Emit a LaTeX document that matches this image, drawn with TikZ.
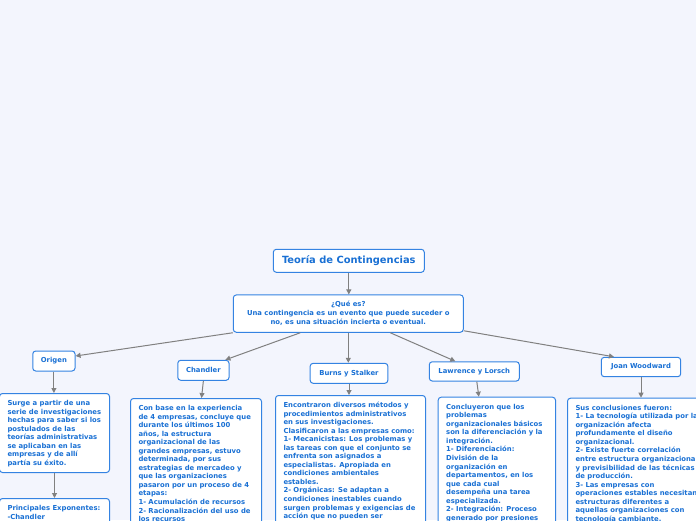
\documentclass[tikz,border=0pt]{standalone}
\usepackage{fontspec}
\setmainfont{DejaVu Sans}
\usetikzlibrary{arrows.meta}
\definecolor{bgc}{RGB}{243,245,253}
\definecolor{bordc}{RGB}{52,131,226}
\definecolor{txtc}{RGB}{25,112,212}
\definecolor{arrc}{RGB}{128,128,128}
\newcommand{\mybx}[3]{\begin{minipage}[c][#2][t]{#1}\begin{tabular}[t]{@{}l@{}}#3\end{tabular}\end{minipage}}
\begin{document}
\begin{tikzpicture}[x=1pt,y=-1pt,
  box/.style={draw=bordc, line width=1pt, fill=white, rounded corners=3pt, text=txtc,
    font=\bfseries\fontsize{6.85}{8.55}\selectfont},
  hdr/.style={box, align=center, inner sep=0pt},
  body/.style={box, anchor=north west, inner xsep=8pt, inner ysep=6pt},
  conn/.style={draw=arrc, line width=1pt, -{Triangle[width=5pt,length=5pt]}}]
\path[use as bounding box, fill=bgc] (0,0) rectangle (696,520);
\clip (0,0) rectangle (696,520);
% headers
\node[hdr, minimum width=151pt, minimum height=23pt, font=\bfseries\fontsize{9.9}{12}\selectfont] (title) at (348.8,260.8) {Teoría de Contingencias};
\node[hdr, minimum width=230pt, minimum height=37.3pt, font=\bfseries\fontsize{6.85}{9}\selectfont] (que) at (348.3,313.6) {¿Qué es?\\Una contingencia es un evento que puede suceder o\\no, es una situación incierta o eventual.};
\node[hdr, minimum width=42.3pt, minimum height=20pt] (origen) at (53.9,361) {Origen};
\node[hdr, minimum width=51.3pt, minimum height=20pt] (chandler) at (203.4,370.3) {Chandler};
\node[hdr, minimum width=77.7pt, minimum height=20pt] (burns) at (349,373.3) {Burns y Stalker};
\node[hdr, minimum width=90pt, minimum height=19.3pt] (lawrence) at (474.3,371.4) {Lawrence y Lorsch};
\node[hdr, minimum width=79.4pt, minimum height=19.4pt] (joan) at (641,367) {Joan Woodward};
% bodies
\node[body] (origenb) at (-1,393) {\mybx{94pt}{67pt}{Surge a partir de una\\serie de investigaciones\\hechas para saber si los\\postulados de las\\teorías administrativas\\se aplicaban en las\\empresas y de allí\\partía su éxito.}};
\node[body] (princ) at (-1,498) {\mybx{94pt}{60pt}{Principales Exponentes:\\-Chandler}};
\node[body] (chandlerb) at (130,398) {\mybx{115pt}{150pt}{Con base en la experiencia\\de 4 empresas, concluye que\\durante los últimos 100\\años, la estructura\\organizacional de las\\grandes empresas, estuvo\\determinada, por sus\\estrategias de mercadeo y\\que las organizaciones\\pasaron por un proceso de 4\\etapas:\\1- Acumulación de recursos\\2- Racionalización del uso de\\los recursos}};
\node[body] (burnsb) at (275,395) {\mybx{134pt}{150pt}{Encontraron diversos métodos y\\procedimientos administrativos\\en sus investigaciones.\\Clasificaron a las empresas como:\\1- Mecanicistas: Los problemas y\\las tareas con que el conjunto se\\enfrenta son asignados a\\especialistas. Apropiada en\\condiciones ambientales\\estables.\\2- Orgánicas: Se adaptan a\\condiciones inestables cuando\\surgen problemas y exigencias de\\acción que no pueden ser}};
\node[body] (lawrenceb) at (437.7,396.7) {\mybx{101.3pt}{150pt}{Concluyeron que los\\problemas\\organizacionales básicos\\son la diferenciación y la\\integración.\\1- Diferenciación:\\División de la\\organización en\\departamentos, en los\\que cada cual\\desempeña una tarea\\especializada.\\2- Integración: Proceso\\generado por presiones}};
\node[body] (joanb) at (567,397.7) {\mybx{117pt}{150pt}{Sus conclusiones fueron:\\1- La tecnología utilizada por la\\organización afecta\\profundamente el diseño\\organizacional.\\2- Existe fuerte correlación\\entre estructura organizacional\\y previsibilidad de las técnicas\\de producción.\\3- Las empresas con\\operaciones estables necesitan\\estructuras diferentes a\\aquellas organizaciones con\\tecnología cambiante.}};
% connectors
\draw[conn] (title.south) -- (title.south |- que.north);
\draw[conn] (que.south west) -- ([yshift=5pt]origen.east);
\draw[conn] ([xshift=-48pt]que.south) -- ([xshift=22pt]chandler.north);
\draw[conn] (que.south) -- (que.south |- burns.north);
\draw[conn] ([xshift=42pt]que.south) -- ([xshift=-19pt]lawrence.north);
\draw[conn] ([yshift=2pt]que.south east) -- ([xshift=-27pt]joan.north);
\draw[conn] (origen.south) -- (origen.south |- origenb.north);
\draw[conn] (origenb.south) -- (origenb.south |- princ.north);
\draw[conn] (chandler.south) -- ([xshift=5.5pt]chandlerb.north);
\draw[conn] (burns.south) -- (burns.south |- burnsb.north);
\draw[conn] ([xshift=2.5pt]lawrence.south) -- ([xshift=-18pt]lawrenceb.north);
\draw[conn] (joan.south) -- (joan.south |- joanb.north);
\end{tikzpicture}
\end{document}
